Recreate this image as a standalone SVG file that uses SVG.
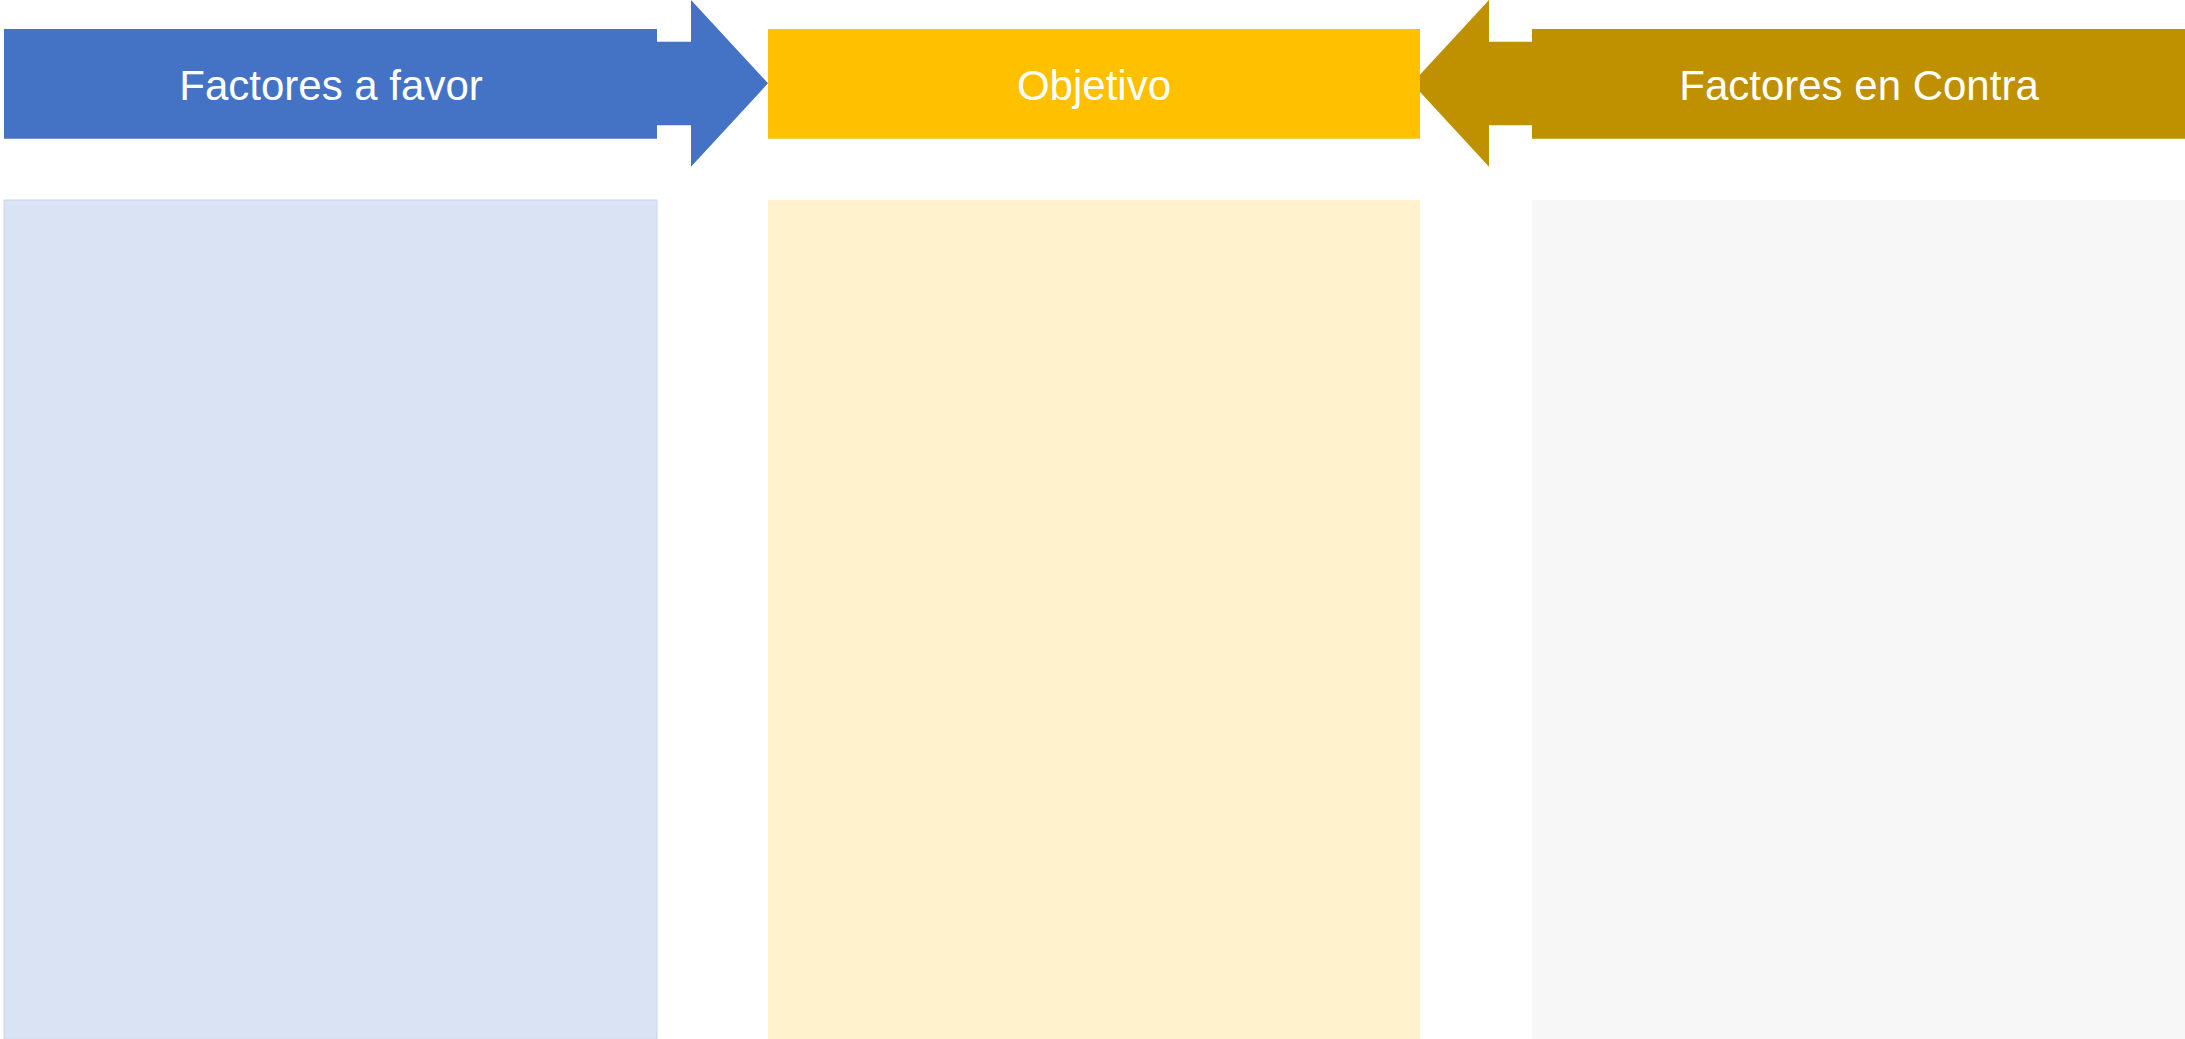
<svg xmlns="http://www.w3.org/2000/svg" width="2185" height="1039" viewBox="0 0 2185 1039">
<style>
.lbl{font-family:"Liberation Sans",Arial,sans-serif;font-size:42px;fill:#FFFFFF;text-anchor:middle}
</style>
<rect x="0" y="0" width="2185" height="1039" fill="#FFFFFF"/>
<g id="panel-favor"><rect x="4" y="200" width="653" height="839" fill="#DAE3F3" stroke="#C9D6EE" stroke-width="1"/></g>
<g id="panel-objetivo"><rect x="768" y="200" width="652" height="839" fill="#FFF2CC"/></g>
<g id="panel-contra"><rect x="1532" y="200" width="653" height="839" fill="#F7F7F7"/></g>
<g id="connectors">
<path id="arrow-favor" d="M4,29 H657 V41.7 H691 V0 L768,83.3 L691,166.7 V125.3 H657 V138.7 H4 Z" fill="#4472C4"/>
<path id="arrow-contra" d="M2185,29 H1532 V41.7 H1489 V0 L1412,83.3 L1489,166.7 V125.3 H1532 V138.7 H2185 Z" fill="#BF9000"/>
</g>
<g id="node-favor"><text class="lbl" x="331" y="100">Factores a favor</text></g>
<g id="node-objetivo"><rect x="768" y="29" width="652" height="109.7" fill="#FFC000"/><text class="lbl" x="1094" y="100">Objetivo</text></g>
<g id="node-contra"><text class="lbl" x="1859" y="100">Factores en Contra</text></g>
</svg>
